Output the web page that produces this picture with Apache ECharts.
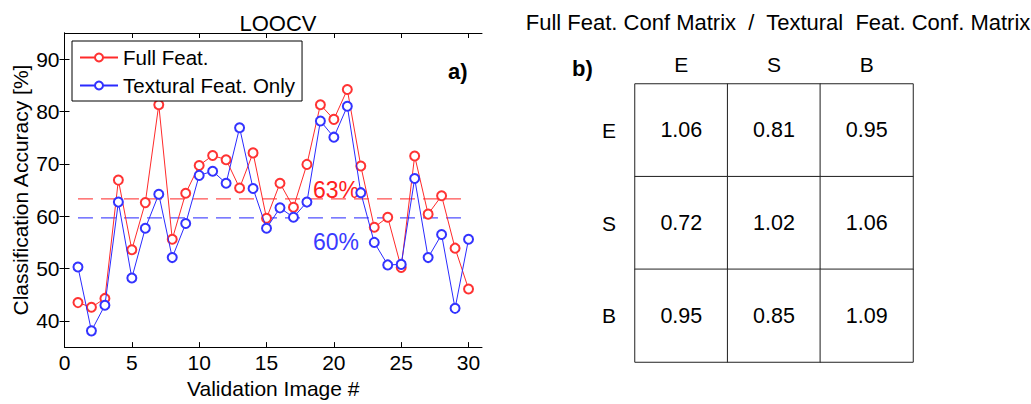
<!DOCTYPE html>
<html>
<head>
<meta charset="utf-8">
<script src="https://cdn.jsdelivr.net/npm/echarts@6/dist/echarts.min.js"></script>
<style>html,body{margin:0;padding:0;background:#fff}#c{width:1031px;height:404px}</style>
</head>
<body>
<div id="c"></div>
<script>
// ---- data ----
const imageIdx = [1,2,3,4,5,6,7,8,9,10,11,12,13,14,15,16,17,18,19,20,21,22,23,24,25,26,27,28,29,30];
const fullFeat = [43.5,42.6,44.3,66.9,53.6,62.6,81.3,55.6,64.4,69.7,71.6,70.8,65.4,72.1,59.6,66.3,61.7,69.9,81.3,78.5,84.2,69.6,57.9,59.8,50.2,71.5,60.4,63.9,53.9,46.1];
const texturalFeat = [50.3,38.1,43.0,62.7,48.2,57.7,64.2,52.1,58.6,67.8,68.6,66.3,76.9,65.3,57.7,61.6,59.8,62.7,78.2,75.1,81.0,64.5,55.0,50.7,50.8,67.2,52.1,56.5,42.4,55.6];
const meanFull = 63.3;
const meanTextural = 59.7;
const meanLabels = ['63%', '60%'];
const xTicks = [0,5,10,15,20,25,30];
const yTicks = [40,50,60,70,80,90];
const classNames = ['E','S','B'];
const ratioRowE = [1.06, 0.81, 0.95];
const ratioRowS = [0.72, 1.02, 1.06];
const ratioRowB = [0.95, 0.85, 1.09];

// ---- build ----
const FONT = 'Liberation Sans, Arial, sans-serif';
const zip = (xs, ys) => xs.map((x, i) => [x, ys[i]]);
const ratioRows = [ratioRowE, ratioRowS, ratioRowB];
const heatData = [];
ratioRows.forEach((row, r) => row.forEach((v, c) => heatData.push([c, r, v])));

const chart = echarts.init(document.getElementById('c'), null, {renderer: 'svg'});
const axisBase = {
  axisLine: {show: true, lineStyle: {color: '#000', width: 1}},
  splitLine: {show: false},
};
const option = {
  backgroundColor: '#fff',
  animation: false,
  textStyle: {fontFamily: FONT},
  title: [
    {text: 'LOOCV', left: 273, top: 7, textAlign: 'center',
     textStyle: {fontFamily: FONT, fontSize: 22, fontWeight: 'normal', color: '#000'}},
    {text: 'Full Feat. Conf Matrix  /  Textural  Feat. Conf. Matrix', left: 773, top: 6, textAlign: 'center',
     textStyle: {fontFamily: FONT, fontSize: 22, fontWeight: 'normal', color: '#000'}}
  ],
  legend: {
    left: 72, top: 41, orient: 'vertical',
    data: ['Full Feat.', 'Textural Feat. Only'],
    backgroundColor: '#fff', borderColor: '#000', borderWidth: 1, borderRadius: 0,
    padding: [6, 7, 5, 7], itemGap: 7, itemWidth: 38, itemHeight: 10,
    textStyle: {fontFamily: FONT, fontSize: 20.5, color: '#000'}
  },
  grid: [
    {left: 64.5, top: 33, width: 417.5, height: 323},
    {left: 635, top: 84, width: 278, height: 278}
  ],
  xAxis: [
    Object.assign({}, axisBase, {gridIndex: 0, type: 'value', min: 0, max: 31, position: 'bottom',
      name: 'Validation Image #', nameLocation: 'middle', nameGap: 27,
      nameTextStyle: {fontFamily: FONT, fontSize: 21, color: '#000'},
      axisTick: {show: true, inside: true, length: 5, customValues: xTicks, lineStyle: {color: '#000'}},
      axisLabel: {customValues: xTicks, fontFamily: FONT, fontSize: 21, color: '#000', margin: 5}}),
    Object.assign({}, axisBase, {gridIndex: 0, type: 'value', min: 0, max: 31, position: 'top',
      axisTick: {show: true, inside: true, length: 5, customValues: xTicks, lineStyle: {color: '#000'}},
      axisLabel: {show: false, customValues: xTicks}}),
    {gridIndex: 1, type: 'category', data: classNames, position: 'top',
      axisLine: {show: false}, axisTick: {show: false}, splitLine: {show: false},
      axisLabel: {fontFamily: FONT, fontSize: 21, color: '#000', margin: 9}}
  ],
  yAxis: [
    Object.assign({}, axisBase, {gridIndex: 0, type: 'value', min: 35, max: 95, position: 'left',
      name: 'Classification Accuracy [%]', nameLocation: 'middle', nameGap: 34,
      nameTextStyle: {fontFamily: FONT, fontSize: 21, color: '#000'},
      axisTick: {show: true, inside: true, length: 5, customValues: yTicks, lineStyle: {color: '#000'}},
      axisLabel: {customValues: yTicks, fontFamily: FONT, fontSize: 21, color: '#000', margin: 5}}),
    Object.assign({}, axisBase, {gridIndex: 0, type: 'value', min: 35, max: 95, position: 'right',
      axisTick: {show: true, inside: true, length: 5, customValues: yTicks, lineStyle: {color: '#000'}},
      axisLabel: {show: false, customValues: yTicks}}),
    {gridIndex: 1, type: 'category', data: classNames, inverse: true,
      axisLine: {show: false}, axisTick: {show: false}, splitLine: {show: false},
      axisLabel: {fontFamily: FONT, fontSize: 21, color: '#000', margin: 19}}
  ],
  visualMap: {show: false, seriesIndex: 4, min: 0, max: 2, dimension: 2,
    inRange: {color: ['#ffffff', '#ffffff']}},
  series: [
    {name: 'Full Feat.', type: 'line', xAxisIndex: 0, yAxisIndex: 0, data: zip(imageIdx, fullFeat),
      symbol: 'emptyCircle', symbolSize: 9, color: '#ff0000',
      lineStyle: {width: 1, color: '#ff2a2a'}, itemStyle: {color: '#ff3333', borderWidth: 1}, z: 3},
    {name: 'Textural Feat. Only', type: 'line', xAxisIndex: 0, yAxisIndex: 0, data: zip(imageIdx, texturalFeat),
      symbol: 'emptyCircle', symbolSize: 9, color: '#0000ff',
      lineStyle: {width: 1, color: '#2a2aff'}, itemStyle: {color: '#3333ff', borderWidth: 1}, z: 4},
    {name: 'meanFull', type: 'line', xAxisIndex: 0, yAxisIndex: 0,
      data: [[imageIdx[0], meanFull], [imageIdx[imageIdx.length - 1], meanFull]],
      symbol: 'none', lineStyle: {width: 1.3, color: '#ff5050', type: [15, 8]}, z: 2, silent: true},
    {name: 'meanTextural', type: 'line', xAxisIndex: 0, yAxisIndex: 0,
      data: [[imageIdx[0], meanTextural], [imageIdx[imageIdx.length - 1], meanTextural]],
      symbol: 'none', lineStyle: {width: 1.3, color: '#5050ff', type: [15, 8]}, z: 2, silent: true},
    {name: 'ratio', type: 'heatmap', xAxisIndex: 2, yAxisIndex: 2, data: heatData,
      itemStyle: {color: '#fff', borderColor: '#222', borderWidth: 1},
      label: {show: true, fontFamily: FONT, fontSize: 21.5, color: '#000',
        formatter: p => p.value[2].toFixed(2)}}
  ],
  graphic: [
    {type: 'text', left: 448, top: 60, style: {text: 'a)', font: 'bold 22px ' + FONT, fill: '#000'}},
    {type: 'text', left: 572, top: 57, style: {text: 'b)', font: 'bold 22px ' + FONT, fill: '#000'}},
    {type: 'text', left: 313, top: 178, style: {text: meanLabels[0], font: '23px ' + FONT, fill: '#ff2020'}},
    {type: 'text', left: 313, top: 230, style: {text: meanLabels[1], font: '23px ' + FONT, fill: '#3a3aff'}}
  ]
};
chart.setOption(option);
</script>
</body>
</html>
